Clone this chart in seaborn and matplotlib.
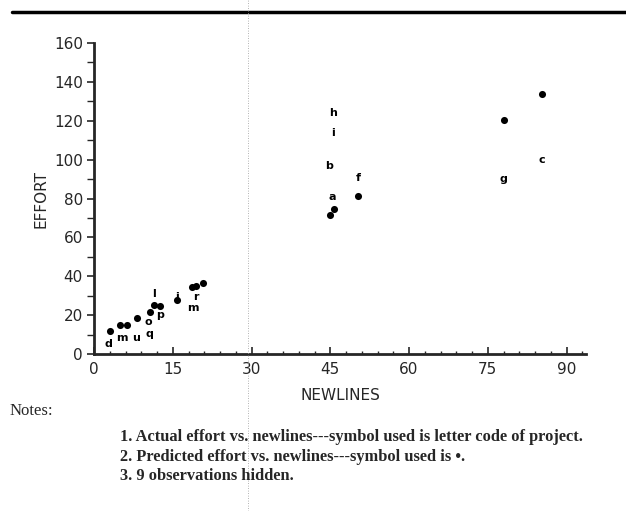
import matplotlib
matplotlib.use("Agg")
import matplotlib.pyplot as plt
from matplotlib.ticker import MultipleLocator
from matplotlib.lines import Line2D
import seaborn as sns
import pandas as pd

# Predicted effort (symbol: dot)
pred_newlines = [3.0, 5.0, 6.2, 8.2, 10.7, 11.4, 12.6, 15.8, 18.6, 19.5, 20.8,
                 45.0, 45.7, 50.3, 78.1, 85.3]
pred_effort = [12.0, 15.0, 15.0, 18.5, 21.6, 25.0, 24.7, 27.8, 34.5, 34.8, 36.7,
               71.5, 74.6, 81.3, 120.4, 134.0]

# Actual effort (symbol: project letter code)
act_letters = ["d", "m", "u", "o", "q", "l", "p", "i", "m", "r",
               "h", "i", "b", "f", "a", "c", "g"]
act_newlines = [2.7, 5.3, 8.0, 10.3, 10.5, 11.4, 12.6, 15.8, 18.9, 19.4,
                45.5, 45.5, 44.8, 50.3, 45.3, 85.3, 78.0]
act_effort = [5.0, 8.0, 8.0, 16.5, 10.5, 31.0, 20.0, 29.5, 23.5, 29.5,
              124.0, 113.6, 96.7, 90.5, 80.8, 100.0, 90.0]

x_ticks = [0, 15, 30, 45, 60, 75, 90]
y_ticks = [0, 20, 40, 60, 80, 100, 120, 140, 160]

notes_title = "Notes:"
notes = [
    "1. Actual effort vs. newlines---symbol used is letter code of project.",
    "2. Predicted effort vs. newlines---symbol used is \u2022.",
    "3. 9 observations hidden.",
]

sns.set_style("ticks")
plt.rcParams["font.family"] = ["DejaVu Sans"]

fig = plt.figure(figsize=(6.26, 5.11), dpi=100)
ax = fig.add_axes([94 / 626, 1 - 354 / 511, (586 - 94) / 626, (354 - 43) / 511])

pred_df = pd.DataFrame({"NEWLINES": pred_newlines, "EFFORT": pred_effort})
act_df = pd.DataFrame({"NEWLINES": act_newlines, "EFFORT": act_effort,
                       "code": act_letters})

sns.scatterplot(data=pred_df, x="NEWLINES", y="EFFORT", ax=ax, color="black",
                s=26, linewidth=0, legend=False, zorder=3)
# letters placed at data coordinates through the axes' data transform
for row in act_df.itertuples():
    ax.text(row.NEWLINES, row.EFFORT, row.code, ha="center", va="center",
            fontsize=8, fontweight="bold", color="black", zorder=3)

ax.set_xlim(0, (586 - 94) / 5.25)
ax.set_ylim(0, 160)
ax.set_xticks(x_ticks)
ax.set_yticks(y_ticks)
ax.xaxis.set_minor_locator(MultipleLocator(3))
ax.yaxis.set_minor_locator(MultipleLocator(10))
ax.tick_params(axis="x", which="major", direction="in", length=5, width=1.2,
               labelsize=11, pad=6)
ax.tick_params(axis="x", which="minor", direction="in", length=2.5, width=1)
ax.tick_params(axis="y", which="major", direction="out", length=5, width=1.2,
               labelsize=11, pad=3)
ax.tick_params(axis="y", which="minor", direction="out", length=5, width=1)
sns.despine(ax=ax)
for sp in ["left", "bottom"]:
    ax.spines[sp].set_linewidth(2)
ax.set_xlabel("NEWLINES", fontsize=11, labelpad=8)
ax.set_ylabel("EFFORT", fontsize=11, labelpad=4)

# top rule
fig.add_artist(Line2D([12 / 626, 1.0], [1 - 12 / 511, 1 - 12 / 511],
                      color="black", linewidth=2.5))
# scan fold
fig.add_artist(Line2D([248 / 626, 248 / 626], [0, 1], color="#999999",
                      linewidth=0.6, linestyle=(0, (1, 2))))

fig.text(10 / 626, 1 - 411 / 511, notes_title, fontsize=12,
         family="Liberation Serif", va="center", ha="left")
for i, line in enumerate(notes):
    fig.text(120 / 626, 1 - (437 + 19.5 * i) / 511, line, fontsize=11.8,
             family="Liberation Serif", weight="bold", va="center", ha="left")

fig.savefig("out.png", dpi=100)
